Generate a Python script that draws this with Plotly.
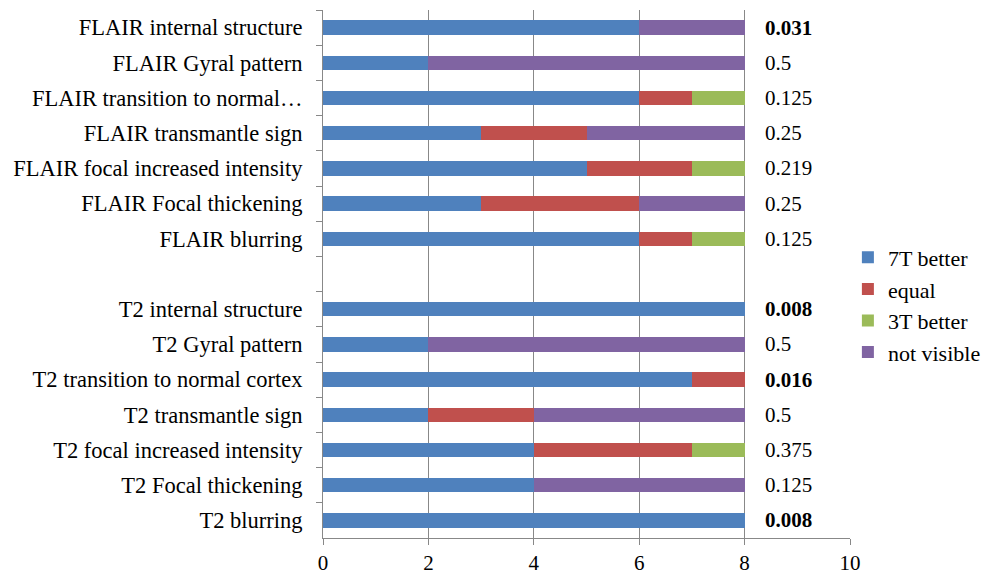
import plotly.graph_objects as go

categories = [
    "FLAIR internal structure",
    "FLAIR Gyral pattern",
    "FLAIR transition to normal…",
    "FLAIR transmantle sign",
    "FLAIR focal increased intensity",
    "FLAIR Focal thickening",
    "FLAIR blurring",
    " ",
    "T2 internal structure",
    "T2 Gyral pattern",
    "T2 transition to normal cortex",
    "T2 transmantle sign",
    "T2 focal increased intensity",
    "T2 Focal thickening",
    "T2 blurring",
]
better_7t = [6, 2, 6, 3, 5, 3, 6, 0, 8, 2, 7, 2, 4, 4, 8]
equal = [0, 0, 1, 2, 2, 3, 1, 0, 0, 0, 1, 2, 3, 0, 0]
better_3t = [0, 0, 1, 0, 1, 0, 1, 0, 0, 0, 0, 0, 1, 0, 0]
not_visible = [2, 6, 0, 3, 0, 2, 0, 0, 0, 6, 0, 4, 0, 4, 0]
p_values = ["0.031", "0.5", "0.125", "0.25", "0.219", "0.25", "0.125", "",
            "0.008", "0.5", "0.016", "0.5", "0.375", "0.125", "0.008"]
p_bold = [True, False, False, False, False, False, False, False,
          True, False, True, False, False, False, True]

series = [
    ("7T better", better_7t, "#4F81BD"),
    ("equal", equal, "#C0504D"),
    ("3T better", better_3t, "#9BBB59"),
    ("not visible", not_visible, "#8064A2"),
]

FONT = "Liberation Serif, DejaVu Serif, serif"

fig = go.Figure()
for name, vals, col in series:
    fig.add_trace(go.Bar(
        y=categories, x=vals, name=name, orientation="h",
        marker=dict(color=col, line=dict(width=0)),
        width=0.41,
    ))

for cat, p, b in zip(categories, p_values, p_bold):
    if not p:
        continue
    fig.add_annotation(
        x=8.35, y=cat, xref="x", yref="y",
        text=f"<b>{p}</b>" if b else p,
        showarrow=False, xanchor="left", yanchor="middle",
        font=dict(family=FONT, size=21, color="#000000"),
    )

fig.update_layout(
    barmode="stack",
    width=983, height=571,
    margin=dict(l=315, r=141, t=2, b=41),
    paper_bgcolor="white", plot_bgcolor="white",
    font=dict(family=FONT, size=21, color="#000000"),
    legend=dict(
        x=0.996, xanchor="left", y=0.571, yanchor="top",
        font=dict(family=FONT, size=22, color="#000000"),
        itemwidth=30, traceorder="normal",
        bgcolor="rgba(0,0,0,0)",
    ),
)
fig.update_xaxes(
    range=[0, 10], dtick=2, tick0=0,
    showgrid=True, gridcolor="#888888", gridwidth=1,
    showline=True, linecolor="#888888", linewidth=1,
    ticks="outside", ticklen=6, tickcolor="#888888",
    zeroline=False, mirror=False,
    tickfont=dict(family=FONT, size=21),
)
fig.update_yaxes(
    autorange="reversed", type="category",
    showline=True, linecolor="#888888", linewidth=1,
    ticks="outside", ticklen=6, tickcolor="#888888",
    tickson="boundaries", showgrid=False,
    tickfont=dict(family=FONT, size=22.5),
    ticklabelstandoff=15,
)

fig.write_html("out.html")
